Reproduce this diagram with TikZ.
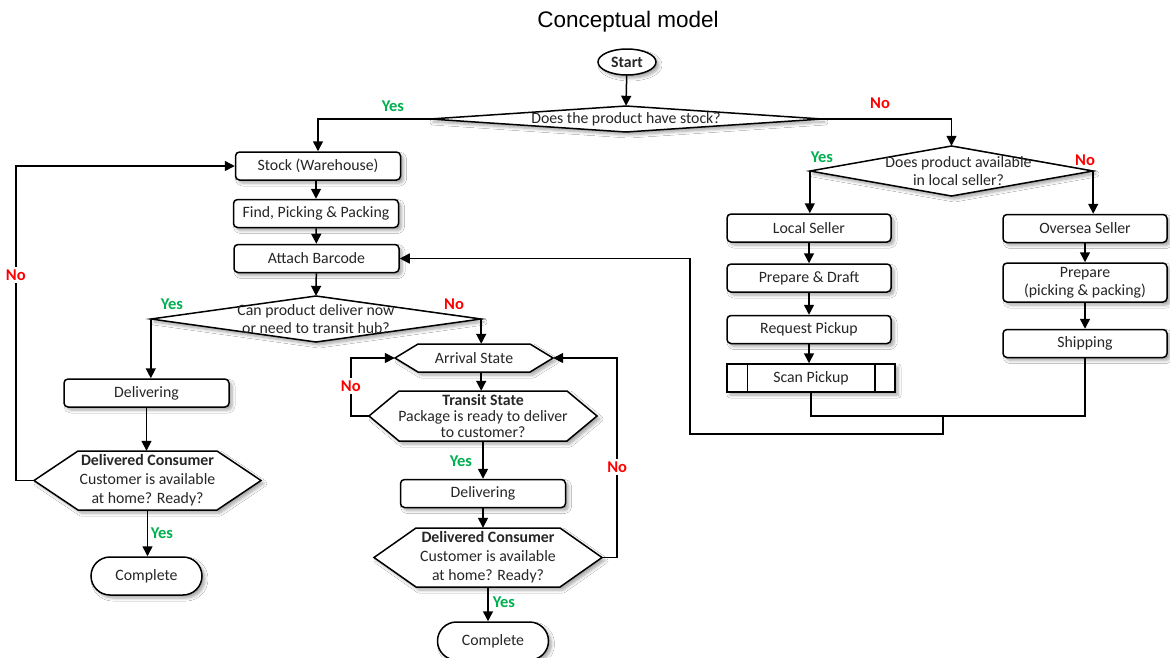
\documentclass[tikz,border=0pt]{standalone}
\usepackage{fontspec}
\setmainfont{Carlito}
\newfontfamily\titlefont{Liberation Sans}
\usetikzlibrary{shapes.geometric,arrows.meta,calc,shadows.blur}
\definecolor{yesgreen}{HTML}{00B050}
\definecolor{nored}{HTML}{FF0000}
\definecolor{ink}{HTML}{262626}
\tikzset{
  shad/.style={blur shadow={shadow xshift=3pt,shadow yshift=-3pt,shadow blur radius=3pt,shadow blur steps=6,shadow opacity=35}},
  txt/.style={text=ink,font=\fontsize{15.8}{18}\selectfont,inner sep=0pt,align=center},
  base/.style={txt,draw=black,line width=1.5pt,fill=white,shad},
  procbox/.style={base,rectangle,rounded corners=4pt,minimum width=165pt,minimum height=28pt},
  termbox/.style={base,rectangle,rounded corners=19pt,minimum width=111pt,minimum height=38pt},
  outline/.style={draw=black,line width=1.5pt,fill=white,shad},
  conn/.style={draw=black,line width=1.5pt},
  arr/.style={conn,-{Triangle[length=10pt,width=10pt]}},
  lab/.style={font=\bfseries\fontsize{16.5}{18}\selectfont,inner sep=1pt},
  yes/.style={lab,text=yesgreen},
  no/.style={lab,text=nored},
}
% hexagon: name, cx, cy, w, h, chamfer, text, baselineskip
\newcommand{\myhex}[8]{%
  \path[outline] ({#2-#4/2},{#3}) -- ({#2-#4/2+#6},{#3-#5/2}) -- ({#2+#4/2-#6},{#3-#5/2})
     -- ({#2+#4/2},{#3}) -- ({#2+#4/2-#6},{#3+#5/2}) -- ({#2-#4/2+#6},{#3+#5/2}) -- cycle;
  \node[txt,font=\fontsize{15.8}{#8}\selectfont,minimum width=#4pt,minimum height=#5pt] (#1) at (#2,#3) {#7};}
% diamond: name, cx, cy, w, h, text
\newcommand{\mydiam}[6]{%
  \path[outline] ({#2-#4/2},{#3}) -- ({#2},{#3-#5/2}) -- ({#2+#4/2},{#3}) -- ({#2},{#3+#5/2}) -- cycle;
  \node[txt,minimum width=#4pt,minimum height=#5pt] (#1) at (#2,#3) {#6};}
\begin{document}
\begin{tikzpicture}[x=1pt,y=-1pt]
\useasboundingbox[fill=white] (0,0) rectangle (1170,657);

\node[font=\titlefont\fontsize{22.5}{26}\selectfont,text=black] (title) at (628,22) {Conceptual model};

% start and first decisions
\node[base,ellipse,minimum width=58pt,minimum height=26pt,font=\bfseries\fontsize{15.8}{18}\selectfont] (start) at (627,62) {Start};
\mydiam{d1}{626}{119}{392}{26}{Does the product have stock?}
\mydiam{d2}{951.5}{171}{283}{50}{\hspace*{14pt}Does product available\\\hspace*{14pt}in local seller?}

% left column
\node[procbox] (stock) at (318,166) {Stock (Warehouse)};
\node[procbox] (find) at (316,213.5) {Find, Picking \& Packing};
\node[procbox] (attach) at (316.5,258.5) {Attach Barcode};
\mydiam{d3}{316}{319}{330}{46}{Can product deliver now\\or need to transit hub?}
\node[procbox] (del1) at (146.5,393) {Delivering};
\myhex{hexL}{147.5}{480.5}{227}{59}{44}{\textbf{Delivered Consumer}\\Customer is available\\at home? Ready?}{19}
\node[termbox] (comp1) at (146.5,576) {Complete};

% middle column
\myhex{arrival}{474}{358}{158}{28}{23}{Arrival State}{18}
\myhex{transit}{483}{416}{228}{50}{30}{\textbf{Transit State}\\Package is ready to deliver\\to customer?}{16}
\node[procbox] (del2) at (483,493.5) {Delivering};
\myhex{hex2}{488}{557.5}{228}{59}{42}{\textbf{Delivered Consumer}\\Customer is available\\at home? Ready?}{19}
\node[termbox] (comp2) at (493,641) {Complete};

% right columns
\node[procbox,minimum width=164pt] (local) at (809,228) {Local Seller};
\node[procbox,minimum width=164pt] (prep1) at (809,278) {Prepare \& Draft};
\node[procbox,minimum width=164pt] (req) at (809,329.5) {Request Pickup};
\node[base,rectangle,minimum width=168pt,minimum height=28pt] (scan) at (811,378) {Scan Pickup};
\draw[conn] ($(scan.north west)+(21,0)$) -- ($(scan.south west)+(21,0)$);
\draw[conn] ($(scan.north east)+(-21,0)$) -- ($(scan.south east)+(-21,0)$);
\node[procbox,minimum width=164pt] (over) at (1085,228.5) {Oversea Seller};
\node[procbox,minimum width=164pt,minimum height=39pt] (prep2) at (1085,282.5) {Prepare\\(picking \& packing)};
\node[procbox,minimum width=164pt] (ship) at (1085,343.5) {Shipping};

% connectors
\draw[arr] (start) -- (d1.north);
\draw[arr] (d1.west) -| (stock.north);
\draw[arr] (d1.east) -| (d2.north);
\draw[arr] (d2.west) -- (d2.west |- local.north);
\draw[arr] (d2.east) -- (d2.east |- over.north);
\draw[arr] (stock.south -| find.north) -- (find.north);
\draw[arr] (find) -- (attach);
\draw[arr] (attach) -- (d3.north);
\draw[arr] (d3.west) -- (d3.west |- del1.north);
\draw[arr] (d3.east) -- (d3.east |- arrival.north);
\draw[arr] (del1.south) -- (del1.south |- hexL.north);
\draw[arr] (hexL.south) -- (hexL.south |- comp1.north);
\draw[arr] (arrival.south -| d3.east) -- (transit.north -| d3.east);
\draw[arr] (transit.south) -- (transit.south |- del2.north);
\draw[arr] (del2.south) -- (del2.south |- hex2.north);
\draw[arr] (hex2.south) -- (hex2.south |- comp2.north);
\draw[arr] (local) -- (prep1);
\draw[arr] (prep1) -- (req);
\draw[arr] (req.south) -- (req.south |- scan.north);
\draw[arr] (over) -- (prep2);
\draw[arr] (prep2) -- (ship);

% loops
\draw[arr] (hexL.west) -- ++(-18,0) coordinate (cL) |- (stock.west);
\draw[arr] (transit.west) -- ++(-18,0) coordinate (cT) |- (arrival.west);
\draw[arr] (hex2.east) -- ++(15,0) coordinate (cR) |- (arrival.east);

% merge back to Attach Barcode
\coordinate (m1) at (943,416);
\coordinate (m2) at (690,434);
\draw[conn] (scan.south) |- (m1) -| (ship.south);
\draw[arr] (m1) |- (m2) |- (attach.east);

% labels
\node[yes] (y1) at (393,106) {Yes};
\node[no] (n1) at (880,103) {No};
\node[yes] (y2) at (822,157) {Yes};
\node[no] (n2) at (1085,160) {No};
\node[yes] (y3) at (172,304) {Yes};
\node[no] (n3) at (454,304) {No};
\node[no,fill=white,inner sep=3pt] (n4) at (cL |- 0,275) {No};
\node[yes] (y4) at (162,533) {Yes};
\node[no,fill=white,inner sep=3pt] (n5) at (cT |- 0,386) {No};
\node[yes] (y5) at (461,461) {Yes};
\node[no,fill=white,inner sep=3pt] (n6) at (cR |- 0,467) {No};
\node[yes] (y6) at (504,602) {Yes};
\end{tikzpicture}
\end{document}
